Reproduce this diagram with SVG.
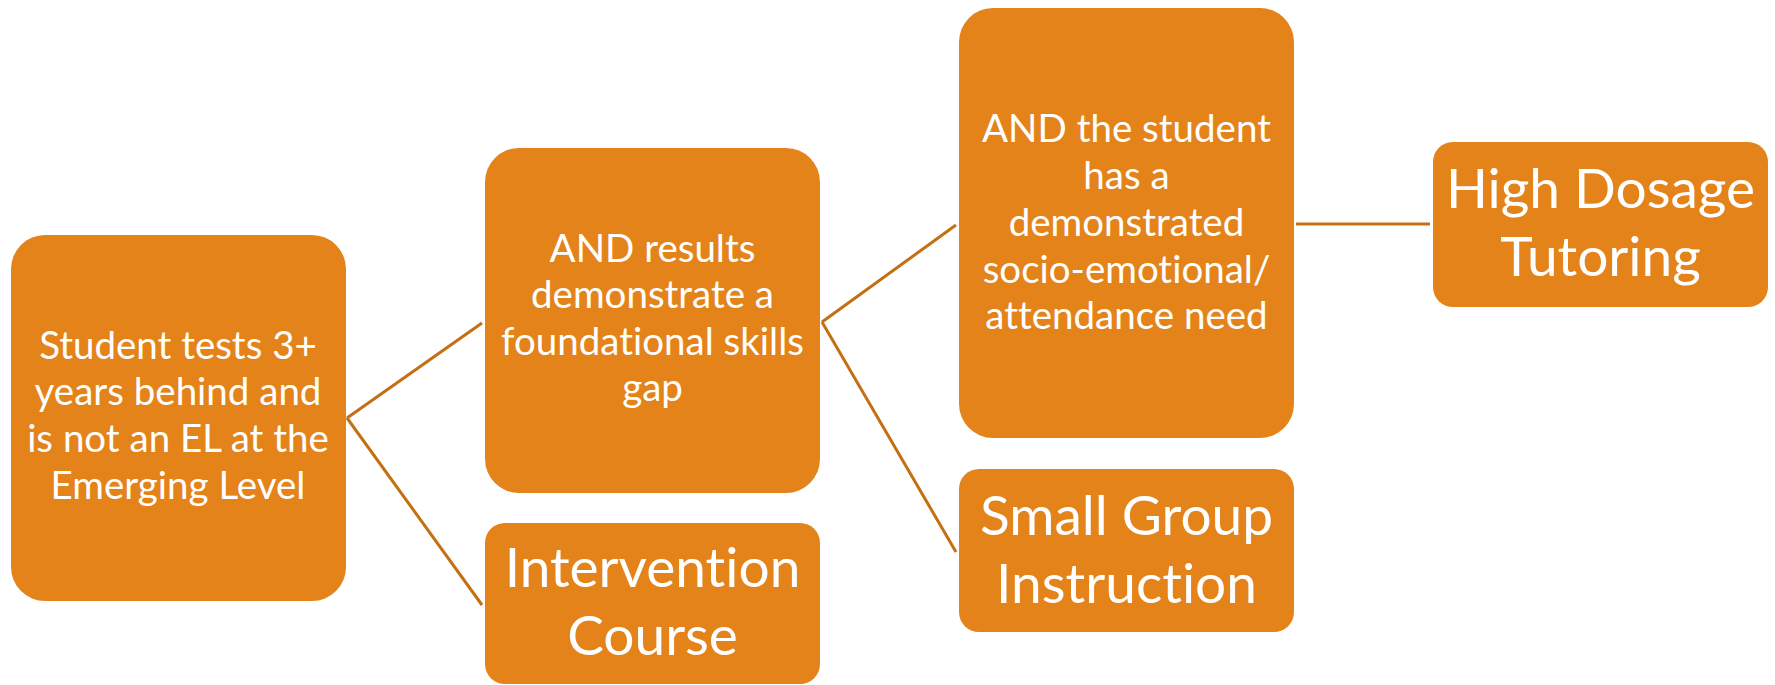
<svg xmlns="http://www.w3.org/2000/svg" width="1775" height="685" viewBox="0 0 1775 685">
<style>
.box{fill:#E4831A;}
.t{fill:#FFFFFF;font-family:Lato,"Open Sans","Liberation Sans",sans-serif;text-anchor:middle;font-variant-ligatures:none;font-feature-settings:"liga" 0;}
.s{font-size:38.5px;}
.l{font-size:55px;}
.c{stroke:#C46F12;stroke-width:3;fill:none;}
</style>
<rect width="1775" height="685" fill="#FFFFFF"/>
<g id="connectors">
<line class="c" x1="347" y1="418" x2="482" y2="323"/>
<line class="c" x1="347" y1="418" x2="482" y2="605"/>
<line class="c" x1="822" y1="322" x2="956" y2="225"/>
<line class="c" x1="822" y1="322" x2="956" y2="552"/>
<line class="c" x1="1296" y1="224" x2="1430" y2="224"/>
</g>
<g id="node-student">
<rect class="box" x="11" y="235" width="335" height="366" rx="34"/>
<text class="t s"><tspan x="178" y="359">Student tests 3+</tspan><tspan x="178" y="405">years behind and</tspan><tspan x="178" y="452">is not an EL at the</tspan><tspan x="178" y="499">Emerging Level</tspan></text>
</g>
<g id="node-foundational">
<rect class="box" x="485" y="148" width="335" height="345" rx="34"/>
<text class="t s"><tspan x="652.5" y="262">AND results</tspan><tspan x="652.5" y="308">demonstrate a</tspan><tspan x="652.5" y="355">foundational skills</tspan><tspan x="652.5" y="401">gap</tspan></text>
</g>
<g id="node-intervention">
<rect class="box" x="485" y="523" width="335" height="161" rx="20"/>
<text class="t l"><tspan x="652.5" y="587">Intervention</tspan><tspan x="652.5" y="655">Course</tspan></text>
</g>
<g id="node-socio">
<rect class="box" x="959" y="8" width="335" height="430" rx="34"/>
<text class="t s"><tspan x="1126.5" y="142">AND the student</tspan><tspan x="1126.5" y="189">has a</tspan><tspan x="1126.5" y="236">demonstrated</tspan><tspan x="1126.5" y="283">socio-emotional/</tspan><tspan x="1126.5" y="329">attendance need</tspan></text>
</g>
<g id="node-smallgroup">
<rect class="box" x="959" y="469" width="335" height="163" rx="20"/>
<text class="t l"><tspan x="1126.5" y="535">Small Group</tspan><tspan x="1126.5" y="603">Instruction</tspan></text>
</g>
<g id="node-tutoring">
<rect class="box" x="1433" y="142" width="335" height="165" rx="20"/>
<text class="t l"><tspan x="1600.5" y="208">High Dosage</tspan><tspan x="1600.5" y="276">Tutoring</tspan></text>
</g>
</svg>
